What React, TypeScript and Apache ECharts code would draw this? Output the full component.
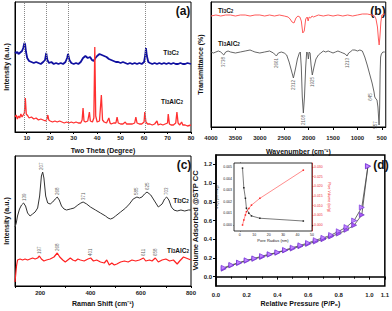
import React, { useEffect, useRef } from 'react';
import * as echarts from 'echarts';

// ---------- (a) XRD ----------
const xrdTi3C2: [number, number][] = [
  [5, 80], [5.5, 79], [6, 80], [6.5, 78], [7, 79], [7.5, 80], [8, 81], [8.5, 84], [9, 89], [9.3, 88], [9.7, 80],
  [10.2, 74], [11, 71], [12, 70], [13, 69], [14, 70], [15, 69], [16, 68], [17, 70], [17.8, 72], [18.3, 79], [18.8, 72],
  [19.5, 69], [20.5, 70], [21.5, 68], [22.5, 69], [23.5, 68], [24.5, 69], [25.5, 68], [26.5, 70], [27.2, 74], [27.6, 78],
  [28.2, 72], [29, 69], [30, 68], [31, 69], [32, 68], [33, 70], [34, 74], [35, 76], [36, 74], [37, 75], [37.8, 72],
  [38.5, 71], [39.3, 74], [40, 76], [41, 78], [42, 77], [43, 76], [44, 75], [45, 73], [46, 72], [47, 71], [48, 70],
  [49, 70], [50, 69], [51, 70], [52, 69], [53, 68], [54, 69], [55, 68], [56, 69], [57, 68], [58, 69], [59, 68], [60, 70],
  [60.5, 77], [60.8, 84], [61.2, 76], [61.8, 70], [62.5, 69], [63.5, 68], [64.5, 69], [65.5, 68], [66.5, 69], [67.5, 68],
  [68.5, 69], [69.5, 68], [70.5, 69], [71.5, 68], [72.5, 69], [73.5, 68], [74.5, 68], [75.5, 69], [76.5, 68], [77.5, 68],
  [78.5, 69], [80, 68],
];
const xrdTi3AlC2: [number, number][] = [
  [5, 15], [5.5, 17], [6, 13], [6.5, 16], [7, 14], [7.5, 18], [8, 15], [8.5, 17], [9, 19], [9.4, 34], [9.8, 18],
  [10.5, 16], [11, 14], [12, 15], [13, 13], [14, 14], [15, 12], [16, 13], [17, 12], [18, 11], [18.6, 13], [19, 17],
  [19.4, 12], [20, 11], [21, 10], [22, 11], [23, 10], [24, 11], [25, 10], [26, 9], [27, 10], [28, 9], [29, 10], [30, 9],
  [31, 10], [32, 9], [33, 9], [33.6, 12], [34, 24], [34.4, 11], [35, 10], [36, 11], [36.7, 20], [37.1, 11], [38, 10],
  [38.6, 14], [39, 85], [39.4, 16], [40, 10], [41, 11], [41.8, 37], [42.3, 12], [43, 10], [44, 9], [45, 14], [45.5, 9],
  [46, 8], [47, 9], [48, 9], [48.5, 15], [49, 9], [50, 8], [51, 8], [52, 10], [52.5, 8], [53, 8], [54, 8], [55, 8],
  [56, 9], [56.5, 15], [57, 9], [58, 8], [59, 8], [60, 10], [60.3, 20], [60.8, 10], [61.5, 8], [62.5, 8], [63.5, 7],
  [64.5, 8], [65.5, 11], [66, 7], [67, 8], [68, 7], [69, 8], [70, 9], [70.3, 18], [70.8, 8], [71.5, 7], [72.5, 7],
  [73.5, 9], [74, 20], [74.5, 9], [75.2, 7], [76, 10], [76.5, 7], [77.5, 7], [78.5, 6], [80, 7],
];
const xrdRefLines = [9, 18.2, 27.7, 60.6];
const xrdTicks = [10, 20, 30, 40, 50, 60, 70, 80];

// ---------- (b) FTIR ----------
const ftirTi3C2: [number, number][] = [
  [4000, 111], [3900, 112], [3800, 111], [3700, 112], [3600, 112], [3500, 111], [3400, 112], [3300, 112], [3200, 111],
  [3100, 112], [3000, 112], [2900, 111], [2800, 112], [2700, 111], [2600, 112], [2500, 111], [2420, 110], [2380, 108],
  [2340, 105], [2300, 104], [2260, 109], [2220, 111], [2180, 110], [2150, 106], [2120, 94], [2090, 96], [2060, 108],
  [2030, 110], [2010, 106], [1990, 110], [1960, 109], [1930, 111], [1900, 110], [1850, 111], [1800, 112], [1700, 111],
  [1600, 112], [1500, 111], [1400, 112], [1300, 111], [1200, 112], [1100, 111], [1000, 112], [900, 113], [800, 113],
  [700, 112], [650, 111], [620, 108], [590, 100], [570, 88], [555, 82], [540, 90], [520, 105], [500, 112], [440, 113],
];
const ftirTi3AlC2: [number, number][] = [
  [4000, 75], [3950, 74], [3900, 75], [3850, 76], [3800, 75], [3738, 72], [3700, 75], [3650, 76], [3600, 75],
  [3500, 74], [3400, 75], [3300, 76], [3200, 77], [3150, 76], [3100, 75], [3000, 74], [2900, 75], [2800, 76],
  [2720, 74], [2661, 71], [2620, 74], [2560, 75], [2500, 74], [2450, 72], [2400, 65], [2350, 56], [2312, 49],
  [2270, 58], [2230, 68], [2190, 74], [2170, 75], [2150, 60], [2130, 30], [2108, 14], [2085, 30], [2060, 60],
  [2040, 75], [2020, 74], [2005, 68], [1990, 75], [1970, 74], [1950, 62], [1925, 52], [1890, 60], [1850, 68],
  [1800, 72], [1750, 74], [1700, 76], [1650, 75], [1600, 76], [1550, 75], [1500, 74], [1450, 75], [1400, 76],
  [1350, 75], [1300, 74], [1250, 73], [1213, 71], [1180, 74], [1150, 75], [1100, 77], [1050, 77], [1000, 76],
  [950, 77], [900, 76], [850, 70], [800, 62], [750, 53], [700, 44], [660, 35], [645, 30], [620, 28], [600, 27],
  [580, 20], [557, 2], [545, 20], [535, 55], [525, 70], [510, 73], [480, 75], [440, 75],
];
const ftirPeaks: [number, number][] = [
  [3738, 72], [2661, 71], [2312, 49], [2108, 14], [1925, 52], [1213, 71], [645, 30], [557, 2],
];
const ftirTicks = [4000, 3500, 3000, 2500, 2000, 1500, 1000, 500];

// ---------- (c) Raman ----------
const ramanTi3C2: [number, number][] = [
  [100, 59], [105, 63], [110, 70], [118, 77], [126, 81], [134, 83], [142, 80], [150, 73], [160, 70], [170, 72],
  [180, 74], [190, 78], [198, 90], [205, 110], [210, 114], [215, 108], [222, 90], [230, 83], [240, 82], [250, 84],
  [260, 87], [268, 89], [276, 86], [285, 80], [295, 77], [305, 76], [320, 77], [335, 78], [350, 81], [362, 83],
  [371, 84], [385, 82], [400, 79], [420, 76], [440, 73], [460, 70], [470, 68], [480, 67], [490, 68], [500, 70],
  [520, 74], [540, 78], [555, 82], [570, 87], [585, 89], [595, 88], [605, 89], [615, 92], [625, 94], [640, 91],
  [655, 85], [670, 79], [685, 82], [695, 87], [703, 89], [712, 86], [722, 79], [732, 76], [745, 75], [760, 76],
  [775, 75], [790, 76], [800, 76],
];
const ramanTi3AlC2: [number, number][] = [
  [100, 4], [103, 12], [106, 20], [110, 26], [120, 27], [130, 26], [140, 27], [150, 26], [160, 27], [170, 28],
  [180, 27], [190, 28], [197, 30], [205, 27], [215, 25], [225, 26], [240, 27], [255, 29], [268, 33], [278, 29],
  [290, 26], [300, 24], [310, 26], [320, 28], [330, 26], [340, 25], [350, 27], [360, 26], [375, 25], [390, 27],
  [401, 28], [412, 25], [425, 26], [440, 24], [455, 23], [465, 26], [475, 21], [485, 23], [495, 21], [505, 22],
  [520, 24], [535, 25], [550, 24], [565, 26], [580, 25], [595, 26], [611, 28], [620, 25], [635, 26], [645, 25],
  [658, 28], [670, 24], [685, 26], [700, 27], [715, 25], [730, 26], [745, 22], [755, 25], [770, 29], [780, 28],
  [790, 27], [800, 26],
];
const ramanPeaksTi3C2: [number, number][] = [
  [139, 83], [207, 114], [268, 89], [371, 84], [585, 89], [625, 94], [703, 89],
];
const ramanPeaksTi3AlC2: [number, number][] = [
  [197, 30], [268, 33], [401, 28], [611, 28], [658, 28],
];
const ramanTicks = [200, 400, 600, 800];

// ---------- (d) BET ----------
const betPressure = [0.05, 0.1, 0.15, 0.2, 0.25, 0.3, 0.35, 0.4, 0.45, 0.5, 0.55, 0.6, 0.65, 0.7, 0.75, 0.8, 0.85, 0.9, 0.95, 0.99];
const betAdsorption = [0.085, 0.12, 0.145, 0.17, 0.19, 0.21, 0.235, 0.255, 0.28, 0.3, 0.325, 0.35, 0.375, 0.4, 0.43, 0.46, 0.5, 0.55, 0.66, 1.18];
const betDesorption = [0.095, 0.125, 0.15, 0.175, 0.195, 0.22, 0.24, 0.26, 0.285, 0.31, 0.335, 0.36, 0.39, 0.415, 0.445, 0.485, 0.53, 0.6, 0.74, 1.18];
const betYTicks = [0, 0.2, 0.4, 0.6, 0.8, 1.0, 1.2];

const bjhRadius = [1.9, 2.8, 3.9, 4.6, 6.3, 8.1, 13.9, 44];
const bjhDvDr = [0.0049, 0.0032, 0.0023, 0.00144, 0.00101, 0.00078, 0.00058, 0.00034];
const bjhPoreVolume = [0.0, 0.0026, 0.0052, 0.0069, 0.0086, 0.0103, 0.0138, 0.0284];
const insetXTicks = [0, 10, 20, 30, 40, 50];
const insetLeftTicks = [0, 0.001, 0.002, 0.003, 0.004, 0.005];
const insetRightTicks = [0, 0.005, 0.01, 0.015, 0.02, 0.025, 0.03];

const FONT = '"Liberation Sans", Arial, sans-serif';

export default function App() {
  const ref = useRef<HTMLDivElement>(null);
  useEffect(() => {
    if (!ref.current) return;
    const chart = echarts.init(ref.current, null, { renderer: 'svg' });
    const tickLabel = { fontFamily: FONT, fontWeight: 'bold' as const, fontSize: 6, color: '#222' };
    const axisName = { fontFamily: FONT, fontWeight: 'bold' as const, fontSize: 7, color: '#111' };
    const blackLine = { lineStyle: { color: '#000', width: 1 } };
    const noY = (grid: number, max: number, name: string, gap: number) => ({
      type: 'value', gridIndex: grid, min: 0, max, name, nameLocation: 'middle', nameGap: gap,
      nameTextStyle: axisName, axisLabel: { show: false }, axisTick: { show: false }, splitLine: { show: false },
      axisLine: { show: true, ...blackLine },
    });
    const peakLabelSeries = (xi: number, yi: number, data: any[], pos: 'top' | 'bottom') => ({
      type: 'scatter', xAxisIndex: xi, yAxisIndex: yi, symbolSize: 1, itemStyle: { color: 'rgba(0,0,0,0)' },
      silent: true, z: 5,
      data,
      label: {
        show: true, position: pos, distance: 1.5, rotate: 90, align: pos === 'top' ? 'left' : 'right',
        verticalAlign: 'middle', fontSize: 4.5, fontFamily: FONT, color: '#333',
        formatter: (p: any) => String(p.value[0]),
      },
    });
    const txt = (x: number, y: number, text: string, size: number, extra: any = {}) => ({
      type: 'text', x, y, silent: true,
      style: { text, fontSize: size, fontWeight: 'bold', fontFamily: FONT, fill: '#111', align: 'center', verticalAlign: 'middle', ...extra },
    });
    const richSub = {
      n: { fontSize: 6.5, fontWeight: 'bold', fontFamily: FONT, lineHeight: 8, fill: '#111', color: '#111' },
      s: { fontSize: 4.5, fontWeight: 'bold', fontFamily: FONT, lineHeight: 4, verticalAlign: 'bottom', fill: '#111', color: '#111' },
    };
    const formula = (x: number, y: number, al: boolean, align = 'center') => ({
      type: 'text', x, y, silent: true,
      style: {
        text: al ? '{n|Ti}{s|3}{n|AlC}{s|2}' : '{n|Ti}{s|3}{n|C}{s|2}',
        rich: richSub, align, verticalAlign: 'middle', fontFamily: FONT,
      },
    });

    chart.setOption({
      animation: false,
      backgroundColor: '#fff',
      grid: [
        { left: 15, top: 2, width: 176, height: 130, show: true, borderColor: '#000', borderWidth: 1 },
        { left: 211, top: 2, width: 177, height: 125, show: true, borderColor: '#000', borderWidth: 1 },
        { left: 15, top: 156, width: 176, height: 130, show: true, borderColor: '#000', borderWidth: 1 },
        { left: 216, top: 155, width: 174, height: 131, show: true, borderColor: '#000', borderWidth: 1.5 },
        { left: 234, top: 163, width: 78, height: 68, show: true, borderColor: '#000', borderWidth: 0.8, backgroundColor: '#fff', z: 3 },
      ],
      xAxis: [
        {
          type: 'value', gridIndex: 0, min: 5, max: 80, name: 'Two Theta (Degree)', nameLocation: 'middle', nameGap: 15,
          nameTextStyle: axisName, splitLine: { show: false }, axisLine: blackLine,
          axisTick: { customValues: xrdTicks, length: 2, lineStyle: { color: '#000' } },
          axisLabel: { customValues: xrdTicks, margin: 3, ...tickLabel },
        },
        {
          type: 'value', gridIndex: 1, min: 420, max: 4000, inverse: true, name: 'Wavenumber (cm⁻¹)', nameLocation: 'middle',
          nameGap: 21, nameTextStyle: axisName, splitLine: { show: false }, axisLine: blackLine,
          axisTick: { customValues: ftirTicks, length: 3, lineStyle: { color: '#000' } },
          axisLabel: { customValues: ftirTicks, margin: 8, formatter: (v: number) => String(v), ...tickLabel },
        },
        {
          type: 'value', gridIndex: 2, min: 100, max: 800, name: 'Raman Shift (cm⁻¹)', nameLocation: 'middle', nameGap: 14,
          nameTextStyle: axisName, splitLine: { show: false }, axisLine: blackLine,
          axisTick: { customValues: [100, 200, 300, 400, 500, 600, 700, 800], length: 2, lineStyle: { color: '#000' } },
          axisLabel: { customValues: ramanTicks, margin: 4, ...tickLabel },
        },
        {
          type: 'value', gridIndex: 3, min: 0, max: 1.1, interval: 0.2, name: 'Relative Pressure (P/P₀)', nameLocation: 'middle',
          nameGap: 14, nameTextStyle: axisName, splitLine: { show: false }, axisLine: { lineStyle: { color: '#000', width: 1.5 } },
          axisTick: { length: 3, lineStyle: { color: '#000' } }, minorTick: { show: true, splitNumber: 2, length: 2, lineStyle: { color: '#000' } },
          axisLabel: { margin: 6, formatter: (v: number) => v.toFixed(1), ...tickLabel },
        },
        {
          type: 'value', gridIndex: 4, min: -4, max: 50, name: 'Pore Radius (nm)', nameLocation: 'middle', nameGap: 7,
          nameTextStyle: { fontFamily: FONT, fontSize: 4, color: '#222' }, splitLine: { show: false },
          axisLine: { lineStyle: { color: '#000', width: 0.8 } },
          axisTick: { customValues: insetXTicks, length: 1.5, lineStyle: { color: '#000', width: 0.6 } },
          axisLabel: { customValues: insetXTicks, margin: 2, fontSize: 3.5, fontFamily: FONT, color: '#222' },
        },
      ],
      yAxis: [
        noY(0, 130, 'Intensity (a.u.)', 5),
        noY(1, 125, 'Transmittance (%)', 7),
        noY(2, 130, 'Intensity (a.u.)', 5),
        {
          type: 'value', gridIndex: 3, min: -0.1, max: 1.3, name: 'Volume Adsorbed @STP CC', nameLocation: 'middle', nameGap: 13,
          nameTextStyle: { ...axisName, fontSize: 7.5 }, splitLine: { show: false },
          axisLine: { lineStyle: { color: '#000', width: 1.5 } },
          axisTick: { customValues: betYTicks, length: 3, lineStyle: { color: '#000' } },
          axisLabel: { customValues: betYTicks, margin: 4, formatter: (v: number) => v.toFixed(1), ...tickLabel },
        },
        {
          type: 'value', gridIndex: 4, min: -0.00052, max: 0.00534, name: 'dV(r) (cc/nm/g)', nameLocation: 'middle', nameGap: 11,
          nameTextStyle: { fontFamily: FONT, fontSize: 3.5, color: '#222' }, splitLine: { show: false },
          axisLine: { lineStyle: { color: '#000', width: 0.8 } },
          axisTick: { customValues: insetLeftTicks, length: 1.5, lineStyle: { color: '#000', width: 0.6 } },
          axisLabel: { customValues: insetLeftTicks, margin: 2, fontSize: 3.5, fontFamily: FONT, color: '#222', formatter: (v: number) => v.toFixed(3) },
        },
        {
          type: 'value', gridIndex: 4, position: 'right', min: -0.0031, max: 0.0321, name: 'Pore Volume (cc/g)', nameLocation: 'middle',
          nameGap: 11, nameRotate: -90, nameTextStyle: { fontFamily: FONT, fontSize: 3.5, color: '#e00' }, splitLine: { show: false },
          axisLine: { show: true, lineStyle: { color: '#f33', width: 0.8 } },
          axisTick: { show: true, customValues: insetRightTicks, length: 1.5, lineStyle: { color: '#f33', width: 0.6 } },
          axisLabel: { customValues: insetRightTicks, margin: 2, fontSize: 3.5, fontFamily: FONT, color: '#e33', formatter: (v: number) => v.toFixed(3) },
        },
      ],
      series: [
        {
          type: 'line', xAxisIndex: 0, yAxisIndex: 0, data: xrdTi3C2, symbol: 'none', lineStyle: { color: '#1010a0', width: 1.8 },
          markLine: {
            silent: true, symbol: 'none', label: { show: false },
            lineStyle: { type: 'dotted', color: '#888', width: 1 },
            data: xrdRefLines.map((v) => ({ xAxis: v })),
          },
        },
        { type: 'line', xAxisIndex: 0, yAxisIndex: 0, data: xrdTi3AlC2, symbol: 'none', lineStyle: { color: '#ff3030', width: 1.3 } },
        { type: 'line', xAxisIndex: 1, yAxisIndex: 1, data: ftirTi3C2, symbol: 'none', lineStyle: { color: '#ff5a5a', width: 1 } },
        { type: 'line', xAxisIndex: 1, yAxisIndex: 1, data: ftirTi3AlC2, symbol: 'none', lineStyle: { color: '#555', width: 0.9 } },
        peakLabelSeries(1, 1, ftirPeaks.map((p) => {
          if (p[0] < 700) {
            return { value: p, label: { position: 'left', align: 'center', verticalAlign: 'bottom', distance: 1 } };
          }
          return { value: p };
        }), 'bottom'),
        { type: 'line', xAxisIndex: 2, yAxisIndex: 2, data: ramanTi3C2, symbol: 'none', lineStyle: { color: '#333', width: 1 } },
        { type: 'line', xAxisIndex: 2, yAxisIndex: 2, data: ramanTi3AlC2, symbol: 'none', lineStyle: { color: '#ff2020', width: 1.2 } },
        peakLabelSeries(2, 2, ramanPeaksTi3C2, 'top'),
        peakLabelSeries(2, 2, ramanPeaksTi3AlC2, 'top'),
        {
          type: 'line', xAxisIndex: 3, yAxisIndex: 3, data: betPressure.map((p, i) => [p, betAdsorption[i]]),
          symbol: 'triangle', symbolRotate: -90, symbolSize: 5, lineStyle: { color: '#444', width: 0.8 },
          itemStyle: { color: '#a855f7', borderColor: '#5b21b6', borderWidth: 0.6 },
        },
        {
          type: 'line', xAxisIndex: 3, yAxisIndex: 3, data: betPressure.map((p, i) => [p, betDesorption[i]]),
          symbol: 'triangle', symbolRotate: -90, symbolSize: 5, lineStyle: { color: '#444', width: 0.8 },
          itemStyle: { color: '#c084fc', borderColor: '#6d28d9', borderWidth: 0.6 },
        },
        {
          type: 'line', xAxisIndex: 4, yAxisIndex: 4, data: bjhRadius.map((r, i) => [r, bjhDvDr[i]]), z: 4,
          symbol: 'rect', symbolSize: 1.5, lineStyle: { color: '#222', width: 0.6 }, itemStyle: { color: '#222' },
        },
        {
          type: 'line', xAxisIndex: 4, yAxisIndex: 5, data: bjhRadius.map((r, i) => [r, bjhPoreVolume[i]]), z: 4,
          symbol: 'rect', symbolSize: 1.5, lineStyle: { color: '#ff4040', width: 0.6 }, itemStyle: { color: '#ff2020' },
        },
      ],
      graphic: [
        txt(183, 11, '(a)', 12),
        txt(378, 11, '(b)', 12),
        txt(184, 165, '(c)', 12),
        txt(381, 165, '(d)', 12),
        formula(171, 52, false),
        formula(172, 101, true),
        formula(218, 10, false, 'left'),
        formula(218, 43, true, 'left'),
        formula(181, 200, false),
        formula(178, 250, true),
      ],
    });
    return () => chart.dispose();
  }, []);
  return <div ref={ref} style={{ position: 'fixed', left: 0, top: 0, width: 392, height: 311 }} />;
}
